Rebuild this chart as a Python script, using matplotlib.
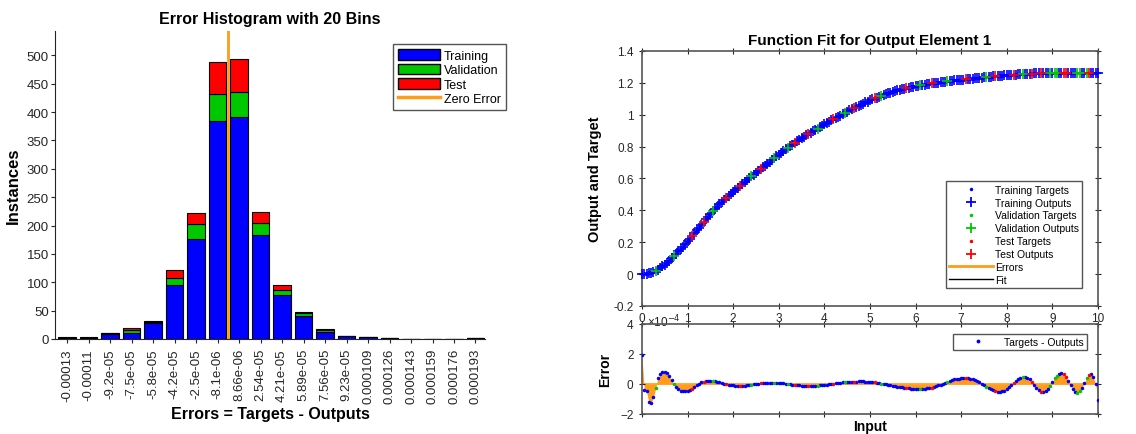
import numpy as np
import matplotlib.pyplot as plt
from matplotlib.patches import Patch
from matplotlib.lines import Line2D

plt.rcParams['font.family'] = ['Liberation Sans', 'DejaVu Sans']

# ---- error histogram data ----
bin_labels = ['-0.00013', '-0.00011', '-9.2e-05', '-7.5e-05', '-5.8e-05', '-4.2e-05',
              '-2.5e-05', '-8.1e-06', '8.66e-06', '2.54e-05', '4.21e-05', '5.89e-05',
              '7.56e-05', '9.23e-05', '0.000109', '0.000126', '0.000143', '0.000159',
              '0.000176', '0.000193']
bin_centers = [-0.00013, -0.00011, -9.2e-05, -7.5e-05, -5.8e-05, -4.2e-05,
               -2.5e-05, -8.1e-06, 8.66e-06, 2.54e-05, 4.21e-05, 5.89e-05,
               7.56e-05, 9.23e-05, 0.000109, 0.000126, 0.000143, 0.000159,
               0.000176, 0.000193]
train_counts = [2, 2, 9, 11, 29, 96, 177, 384, 392, 183, 77, 40, 13, 5, 3, 1, 0, 0, 0, 1]
val_counts = [0, 0, 1, 5, 1, 12, 26, 48, 44, 21, 9, 5, 2, 1, 1, 0, 0, 0, 0, 0]
test_counts = [1, 1, 0, 3, 1, 14, 19, 56, 58, 20, 10, 3, 2, 0, 0, 0, 0, 0, 0, 0]

# ---- function fit data (input in units of 1e-4, step 0.05) ----
input_vals = np.linspace(0, 10, 201)
output_vals = [
    0.000, 0.000, 0.002, 0.004, 0.008, 0.013, 0.020, 0.028, 0.038, 0.049,
    0.060, 0.072, 0.085, 0.099, 0.113, 0.127, 0.142, 0.157, 0.173, 0.189,
    0.205, 0.222, 0.240, 0.257, 0.275, 0.292, 0.310, 0.327, 0.345, 0.361,
    0.378, 0.393, 0.409, 0.423, 0.438, 0.451, 0.465, 0.478, 0.491, 0.504,
    0.517, 0.529, 0.542, 0.554, 0.566, 0.578, 0.590, 0.601, 0.613, 0.624,
    0.636, 0.647, 0.658, 0.669, 0.680, 0.691, 0.702, 0.714, 0.726, 0.738,
    0.750, 0.761, 0.772, 0.782, 0.793, 0.803, 0.813, 0.823, 0.833, 0.842,
    0.852, 0.861, 0.870, 0.879, 0.888, 0.896, 0.905, 0.913, 0.922, 0.931,
    0.940, 0.948, 0.957, 0.965, 0.973, 0.980, 0.988, 0.995, 1.003, 1.011,
    1.020, 1.027, 1.035, 1.042, 1.049, 1.056, 1.063, 1.070, 1.077, 1.083,
    1.090, 1.096, 1.102, 1.107, 1.113, 1.118, 1.124, 1.129, 1.134, 1.139,
    1.144, 1.148, 1.153, 1.157, 1.161, 1.164, 1.166, 1.169, 1.172, 1.175,
    1.178, 1.181, 1.184, 1.186, 1.189, 1.191, 1.194, 1.196, 1.198, 1.200,
    1.202, 1.204, 1.206, 1.208, 1.210, 1.212, 1.214, 1.215, 1.217, 1.218,
    1.220, 1.221, 1.223, 1.224, 1.226, 1.227, 1.229, 1.230, 1.232, 1.233,
    1.235, 1.236, 1.238, 1.239, 1.241, 1.242, 1.244, 1.245, 1.246, 1.247,
    1.248, 1.249, 1.250, 1.251, 1.252, 1.253, 1.254, 1.255, 1.256, 1.257,
    1.258, 1.258, 1.259, 1.259, 1.260, 1.260, 1.261, 1.261, 1.262, 1.262,
    1.263, 1.263, 1.263, 1.263, 1.263, 1.263, 1.263, 1.263, 1.263, 1.263,
    1.263, 1.263, 1.263, 1.263, 1.263, 1.263, 1.263, 1.263, 1.263, 1.263,
    1.263]
error_vals = [
    1.90, -0.40, -0.50, -1.20, -1.30, -0.90, -0.30, 0.40, 0.65, 0.80,
    0.80, 0.70, 0.50, 0.25, 0.00, -0.20, -0.35, -0.45, -0.50, -0.50,
    -0.48, -0.42, -0.32, -0.22, -0.10, 0.00, 0.10, 0.16, 0.20, 0.22,
    0.22, 0.22, 0.20, 0.16, 0.12, 0.08, 0.03, -0.01, -0.05, -0.08,
    -0.10, -0.11, -0.12, -0.12, -0.12, -0.11, -0.09, -0.07, -0.05, -0.02,
    0.00, 0.02, 0.04, 0.06, 0.07, 0.08, 0.08, 0.08, 0.08, 0.08,
    0.07, 0.06, 0.04, 0.02, 0.00, -0.02, -0.04, -0.06, -0.08, -0.10,
    -0.11, -0.12, -0.13, -0.13, -0.13, -0.13, -0.12, -0.11, -0.10, -0.09,
    -0.07, -0.05, -0.03, 0.00, 0.02, 0.04, 0.06, 0.08, 0.10, 0.12,
    0.13, 0.14, 0.15, 0.16, 0.16, 0.17, 0.17, 0.17, 0.16, 0.15,
    0.14, 0.12, 0.10, 0.08, 0.05, 0.03, 0.00, -0.03, -0.06, -0.09,
    -0.12, -0.15, -0.18, -0.21, -0.23, -0.26, -0.28, -0.30, -0.31, -0.32,
    -0.33, -0.33, -0.33, -0.33, -0.32, -0.30, -0.28, -0.24, -0.20, -0.15,
    -0.10, -0.04, 0.02, 0.09, 0.15, 0.21, 0.26, 0.30, 0.34, 0.36,
    0.38, 0.39, 0.39, 0.38, 0.35, 0.31, 0.25, 0.18, 0.10, 0.01,
    -0.08, -0.18, -0.27, -0.35, -0.42, -0.48, -0.52, -0.53, -0.50, -0.44,
    -0.35, -0.23, -0.10, 0.05, 0.20, 0.32, 0.42, 0.47, 0.48, 0.42,
    0.30, 0.14, -0.05, -0.24, -0.40, -0.52, -0.55, -0.49, -0.35, -0.12,
    0.15, 0.38, 0.55, 0.67, 0.72, 0.65, 0.45, 0.20, -0.05, -0.33,
    -0.55, -0.62, -0.50, -0.25, 0.05, 0.38, 0.60, 0.65, 0.45, 0.00,
    -1.05]
# T = training, V = validation, E = test
split = ("TTTTTTVTTT" "TTTTVTTTTT" "TTETTTTETT" "TVTTTTTETT" "TTTETTTTVT"
         "TTETTTTTVT" "TTTTVTTETT" "TTTETTTVTT" "TTTTETTTTV" "TTTETTTTTT"
         "TTETTVTTTT" "TTTTTTETTT" "TTVTTTTETT" "TTTTVTTTTT" "TTETTTTTTT"
         "TVTTTETTTT" "TTTETTTVTT" "TETTTETTTV" "TVVTTEETTT" "TVVTTVETTT"
         "T")
assert len(output_vals) == len(error_vals) == len(split) == len(input_vals)

blue, green, red = '#0000FF', '#00C800', '#FF0000'
orange = '#FF9C1A'
dark = '#262626'
split_colors = {'T': blue, 'V': green, 'E': red}

fig = plt.figure(figsize=(11.36, 4.35), dpi=100)

# ================= error histogram =================
ax = fig.add_axes([0.0484, 0.2184, 0.3785, 0.708])
idx = np.arange(len(bin_labels))
train = np.array(train_counts)
val = np.array(val_counts)
test = np.array(test_counts)
w = 0.82
ax.bar(idx, train, w, color=blue, edgecolor='black', linewidth=0.8)
ax.bar(idx, val, w, bottom=train, color=green, edgecolor='black', linewidth=0.8)
ax.bar(idx, test, w, bottom=train + val, color=red, edgecolor='black', linewidth=0.8)
zero_pos = np.interp(0.0, bin_centers, idx)
ax.set_ylim(0, 543)
ax.plot([zero_pos, zero_pos], [0, 543], color=orange, lw=2)
ax.set_xlim(-0.56, 19.44)
ax.set_yticks(range(0, 501, 50))
ax.set_xticks(idx)
ax.set_xticklabels(bin_labels, rotation=90)
ax.tick_params(direction='out', length=3, labelsize=9.5, colors=dark, width=0.8)
ax.tick_params(axis='y', pad=1.5)
for s in ('top', 'right'):
    ax.spines[s].set_visible(False)
for s in ('left', 'bottom'):
    ax.spines[s].set_color(dark)
ax.set_title('Error Histogram with 20 Bins', fontsize=11.5, fontweight='bold', pad=6)
ax.set_xlabel('Errors = Targets - Outputs', fontsize=11.5, fontweight='bold', labelpad=2)
ax.set_ylabel('Instances', fontsize=12, fontweight='bold')
ax.yaxis.set_label_coords(-0.08, 0.5)
hist_handles = [Patch(facecolor=blue, edgecolor='black'),
                Patch(facecolor=green, edgecolor='black'),
                Patch(facecolor=red, edgecolor='black'),
                Line2D([], [], color=orange, lw=2.5)]
leg = ax.legend(hist_handles, ['Training', 'Validation', 'Test', 'Zero Error'],
                loc='upper right', bbox_to_anchor=(1.049, 0.958), borderaxespad=0,
                fontsize=9, handlelength=3.4, handleheight=0.95, labelspacing=0.15,
                handletextpad=0.3, borderpad=0.4, fancybox=False, framealpha=1)
leg.get_frame().set_edgecolor('#555555')

# ================= function fit =================
ax1 = fig.add_axes([0.5651, 0.2943, 0.4014, 0.5862])
ax2 = fig.add_axes([0.5651, 0.046, 0.4014, 0.2069])
ax2.patch.set_visible(False)

outs = np.array(output_vals)
errs = np.array(error_vals)
codes = np.array(list(split))

ax1.plot(input_vals, outs, color='black', lw=1, zorder=1)
for code in ('T', 'V', 'E'):
    m = codes == code
    ax1.plot(input_vals[m], outs[m], '.', color=split_colors[code], ms=3, zorder=2)
    ax1.plot(input_vals[m], outs[m], '+', color=split_colors[code], ms=7, mew=1.2,
             zorder=3, clip_on=False)
ax1.set_xlim(0, 10)
ax1.set_ylim(-0.2, 1.4)
ax1.set_xticks(range(0, 11))
ax1.set_yticks(np.round(np.arange(-0.2, 1.41, 0.2), 1))
ax1.set_yticklabels(['-0.2', '0', '0.2', '0.4', '0.6', '0.8', '1', '1.2', '1.4'])
ax1.text(0.11, -0.025, '×10$^{-4}$', transform=ax1.get_xaxis_transform(),
         fontsize=8.5, color=dark, ha='left', va='top', zorder=10)
ax1.set_title('Function Fit for Output Element 1', fontsize=11, fontweight='bold', pad=5)
ax1.set_ylabel('Output and Target', fontsize=10.5, fontweight='bold', labelpad=8)

fit_handles = [
    Line2D([], [], ls='none', marker='.', ms=3, color=blue),
    Line2D([], [], ls='none', marker='+', ms=7, mew=1.3, color=blue),
    Line2D([], [], ls='none', marker='.', ms=3, color=green),
    Line2D([], [], ls='none', marker='+', ms=7, mew=1.3, color=green),
    Line2D([], [], ls='none', marker='.', ms=3, color=red),
    Line2D([], [], ls='none', marker='+', ms=7, mew=1.3, color=red),
    Line2D([], [], color=orange, lw=2),
    Line2D([], [], color='black', lw=1)]
fit_labels = ['Training Targets', 'Training Outputs', 'Validation Targets',
              'Validation Outputs', 'Test Targets', 'Test Outputs', 'Errors', 'Fit']
leg1 = ax1.legend(fit_handles, fit_labels, loc='lower right',
                  bbox_to_anchor=(0.965, 0.07), borderaxespad=0, fontsize=7.5,
                  handlelength=4.2, labelspacing=0.28, handletextpad=0.2,
                  borderpad=0.3, fancybox=False, framealpha=1)
leg1.get_frame().set_edgecolor('#555555')

ax2.fill_between(input_vals, 0, errs, color=orange, lw=0, zorder=1)
ax2.axhline(0, color=orange, lw=1.2, zorder=1)
for code in ('T', 'V', 'E'):
    m = codes == code
    ax2.plot(input_vals[m], errs[m], '.', color=split_colors[code], ms=3, zorder=3)
ax2.set_xlim(0, 10)
ax2.set_ylim(-2, 4)
ax2.set_xticks(range(0, 11))
ax2.set_yticks([-2, 0, 2, 4])
ax2.set_xlabel('Input', fontsize=10, fontweight='bold', labelpad=1)
ax2.set_ylabel('Error', fontsize=10, fontweight='bold', labelpad=6)
leg2 = ax2.legend([Line2D([], [], ls='none', marker='.', ms=3.5, color=blue)],
                  ['Targets - Outputs'], loc='upper right',
                  bbox_to_anchor=(0.976, 0.889), borderaxespad=0, fontsize=7.5,
                  handlelength=4.2, handletextpad=0.4, borderpad=0.3,
                  fancybox=False, framealpha=1)
leg2.get_frame().set_edgecolor('#555555')

for a in (ax1, ax2):
    a.tick_params(direction='inout', length=5, top=True, right=True,
                  labelsize=8.5, colors=dark, width=0.8)
    for s in a.spines.values():
        s.set_color('#555555')
        s.set_linewidth(1.2)
ax1.tick_params(axis='x', pad=2)
ax2.tick_params(axis='x', labelbottom=False)

fig.savefig('out.png', dpi=100)
